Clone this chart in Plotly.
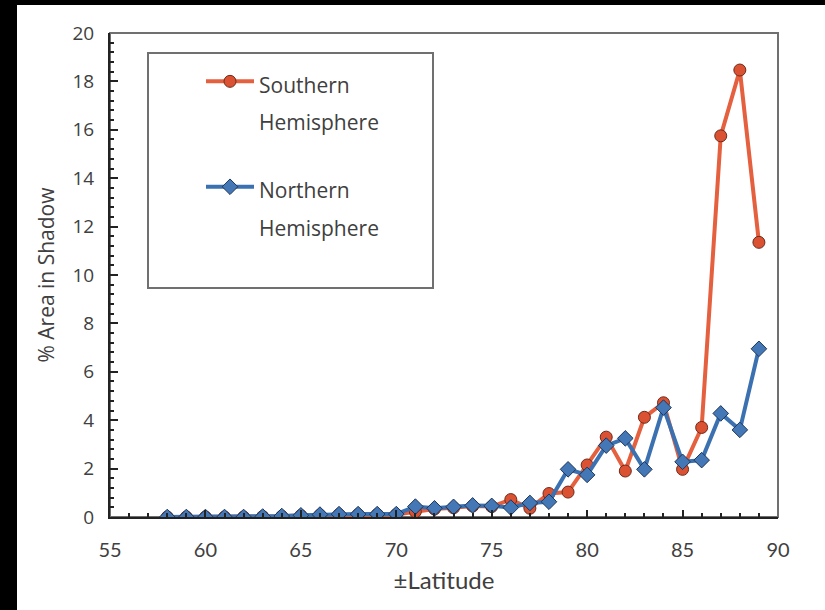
import plotly.graph_objects as go

latitude = list(range(58, 90))
southern = [0.0, 0.0, 0.0, 0.0, 0.0, 0.02, 0.03, 0.06, 0.08, 0.1, 0.1, 0.1, 0.1,
            0.22, 0.33, 0.38, 0.45, 0.43, 0.72, 0.36, 0.97, 1.03, 2.15, 3.3,
            1.9, 4.12, 4.72, 1.97, 3.7, 15.75, 18.47, 11.35]
northern = [0.0, 0.0, 0.0, 0.0, 0.0, 0.02, 0.04, 0.07, 0.1, 0.12, 0.12, 0.12, 0.12,
            0.43, 0.36, 0.42, 0.48, 0.46, 0.39, 0.58, 0.63, 1.97, 1.74, 2.95,
            3.25, 1.97, 4.52, 2.28, 2.35, 4.28, 3.6, 6.95]

series_names = ["Southern<br>Hemisphere", "Northern<br>Hemisphere"]
x_ticks = [55, 60, 65, 70, 75, 80, 85, 90]
y_ticks = [0, 2, 4, 6, 8, 10, 12, 14, 16, 18, 20]

W, H = 825, 610
L, R, T, B = 110, 47, 33, 93
PW, PH = W - L - R, H - T - B


def px_x(p):
    return (p - L) / PW


def px_y(p):
    return (H - B - p) / PH


def leg_text(s):
    return "<br>".join("<span style='font-size:21px'>%s</span>" % part for part in s.split("<br>"))


fig = go.Figure()
fig.add_trace(go.Scatter(
    x=latitude, y=southern, name=leg_text(series_names[0]), mode="lines+markers",
    line=dict(color="#E4603F", width=4),
    marker=dict(symbol="circle", size=12, color="#DB5232", line=dict(color="#6E2A1C", width=1)),
    legendgroup="s",
))
fig.add_trace(go.Scatter(
    x=latitude, y=northern, name=leg_text(series_names[1]), mode="lines+markers",
    line=dict(color="#3B71B1", width=4),
    marker=dict(symbol="diamond", size=12, color="#4477B6", line=dict(color="#1E3658", width=1)),
    legendgroup="n",
))

tick_font_x = dict(family="Lato", size=20, color="#404040")
tick_font_y = dict(family="Open Sans", size=19, color="#404040")

fig.update_layout(
    width=W, height=H,
    margin=dict(l=L, r=R, t=T, b=B),
    paper_bgcolor="white", plot_bgcolor="white",
    showlegend=True,
    legend=dict(
        x=px_x(201), y=px_y(56), xanchor="left", yanchor="top",
        bgcolor="rgba(0,0,0,0)", borderwidth=0,
        font=dict(family="Open Sans", size=29, color="#404040"),
        valign="top", tracegroupgap=27, itemwidth=48,
    ),
    xaxis=dict(
        range=[55, 90], tickvals=x_ticks, ticks="inside", ticklen=7, tickwidth=2,
        tickcolor="#222", showline=True, linecolor="#222", linewidth=2,
        showgrid=False, zeroline=False, tickfont=tick_font_x, ticklabelstandoff=14,
        minor=dict(dtick=1, ticks="inside", ticklen=4, tickwidth=1.5, tickcolor="#222", showgrid=False),
        title=dict(text="±Latitude", font=dict(family="Lato", size=24, color="#404040"), standoff=12),
    ),
    yaxis=dict(
        range=[0, 20], tickvals=y_ticks, ticks="inside", ticklen=8, tickwidth=2,
        tickcolor="#222", showline=True, linecolor="#222", linewidth=2,
        showgrid=False, zeroline=False, tickfont=tick_font_y, ticklabelstandoff=10,
        minor=dict(dtick=0.4, ticks="inside", ticklen=4, tickwidth=1.5, tickcolor="#222", showgrid=False),
        title=dict(text="% Area in Shadow", font=dict(family="Open Sans", size=21, color="#404040"), standoff=12),
    ),
    shapes=[
        # plot frame (top/right grey)
        dict(type="rect", xref="paper", yref="paper", x0=0, x1=1, y0=0, y1=1,
             line=dict(color="#707070", width=2), layer="below"),
        # legend box
        dict(type="rect", xref="paper", yref="paper",
             x0=px_x(148), x1=px_x(433), y0=px_y(288), y1=px_y(53),
             line=dict(color="#707070", width=2), fillcolor="white", layer="below"),
        # black image border (left and top)
        dict(type="rect", xref="paper", yref="paper",
             x0=px_x(-2), x1=px_x(17), y0=px_y(H + 2), y1=px_y(-2),
             line=dict(width=0), fillcolor="black"),
        dict(type="rect", xref="paper", yref="paper",
             x0=px_x(-2), x1=px_x(W + 2), y0=px_y(5), y1=px_y(-2),
             line=dict(width=0), fillcolor="black"),
    ],
)

fig.write_html("out.html")
